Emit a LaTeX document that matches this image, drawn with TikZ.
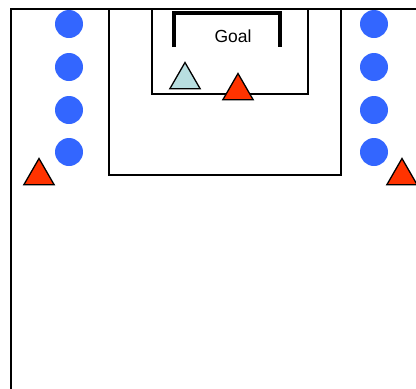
\documentclass[tikz,border=0pt]{standalone}
\usepackage{fontspec}
\setmainfont{Liberation Sans}
\usetikzlibrary{shapes.geometric}
\definecolor{dotblue}{HTML}{3366FF}
\definecolor{conered}{HTML}{FF3300}
\definecolor{keeper}{HTML}{B8DEE0}

\begin{document}
\begin{tikzpicture}[x=1pt,y=-1pt]
\useasboundingbox (0,0) rectangle (416,389);
% field and boxes
\draw [line width=2.2pt] (11,389) -- (11,9) -- (416,9);
\draw [line width=1.4pt] (109,9) rectangle (341,175);
\draw [line width=1.4pt] (152,9) rectangle (308,94);
\draw [line width=4pt] (174,47) -- (174,13) -- (280,13) -- (280,47);
\node (goal) at (233,36) {\fontsize{17.5}{20}\selectfont Goal};
\begin{scope}[every node/.style={circle,fill=dotblue,inner sep=0pt,minimum size=28pt}]
\node (L1) at (69,24) {};
\node (L2) at (69,67) {};
\node (L3) at (69,110) {};
\node (L4) at (69,152) {};
\node (R1) at (374,24) {};
\node (R2) at (374,67) {};
\node (R3) at (374,110) {};
\node (R4) at (374,152) {};
\end{scope}
\begin{scope}[every node/.style={regular polygon,regular polygon sides=3,draw,line width=1.3pt,inner sep=0pt,minimum size=35pt}]
\node [fill=keeper] (K) at (185,80) {};
\node [fill=conered] (C1) at (238,91) {};
\node [fill=conered] (C2) at (39,176) {};
\node [fill=conered] (C3) at (402,176) {};
\end{scope}
\end{tikzpicture}
\end{document}
